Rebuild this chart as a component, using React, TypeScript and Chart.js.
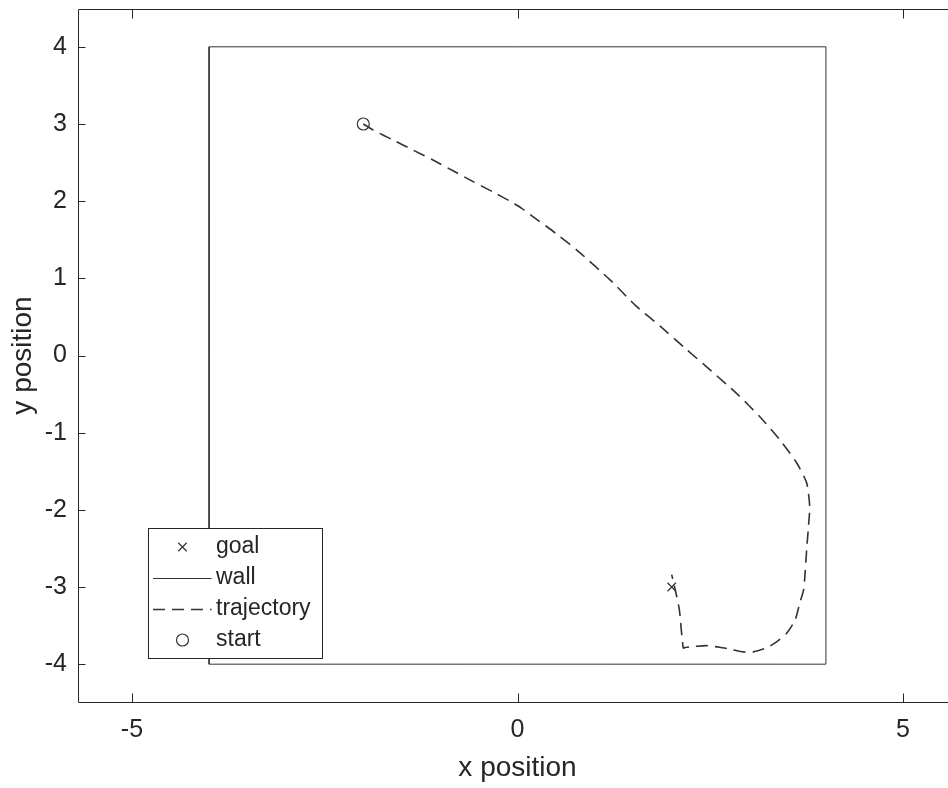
import { useEffect, useRef } from "react";
import { Chart, registerables } from "chart.js";

Chart.register(...registerables);

// ---- data ----
const xTicks = [-5, 0, 5];
const yTicks = [-4, -3, -2, -1, 0, 1, 2, 3, 4];
const xRange = [-5.7, 5.7];
const yRange = [-4.49, 4.49];

const seriesLabels = ["goal", "wall", "trajectory", "start"];

const goalX = [2];
const goalY = [-3];

const wallX = [-4, 4, 4, -4, -4];
const wallY = [-4, -4, 4, 4, -4];

const trajX = [
  -2.0, -1.87, -1.61, -1.35, -1.09, -0.83, -0.57, -0.32, -0.08, 0.05, 0.2, 0.5,
  0.8, 1.2, 1.54, 1.85, 2.19, 2.49, 2.84, 3.14, 3.4, 3.62, 3.75, 3.79, 3.77,
  3.75, 3.73, 3.71, 3.66, 3.6, 3.49, 3.36, 3.23, 3.06, 2.93, 2.78, 2.62, 2.45,
  2.3, 2.19, 2.15, 2.1, 2.06, 2.0,
];
const trajY = [
  3.0, 2.92, 2.79, 2.66, 2.53, 2.39, 2.25, 2.12, 1.99, 1.91, 1.8, 1.58, 1.34,
  0.98, 0.64, 0.38, 0.08, -0.18, -0.49, -0.79, -1.09, -1.39, -1.65, -1.96,
  -2.26, -2.52, -2.82, -3.04, -3.21, -3.43, -3.6, -3.71, -3.79, -3.84, -3.84,
  -3.81, -3.78, -3.76, -3.77, -3.78, -3.79, -3.3, -3.1, -2.84,
];

const startX = [-2];
const startY = [3];

const xTitle = "x position";
const yTitle = "y position";

// ---- styling ----
const FONT = "'Liberation Sans', Arial, Helvetica, sans-serif";
const AXIS_COLOR = "#262626";
const CANVAS_W = 966;
const CANVAS_H = 788;

const pts = (xs: number[], ys: number[]) => xs.map((x, i) => ({ x, y: ys[i] }));

function drawMarker(ctx: CanvasRenderingContext2D, style: string, cx: number, cy: number, r: number) {
  ctx.beginPath();
  if (style === "crossRot") {
    const d = r * Math.SQRT1_2;
    ctx.moveTo(cx - d, cy - d);
    ctx.lineTo(cx + d, cy + d);
    ctx.moveTo(cx - d, cy + d);
    ctx.lineTo(cx + d, cy - d);
  } else {
    ctx.arc(cx, cy, r, 0, Math.PI * 2);
  }
  ctx.stroke();
}

const framePlugin = {
  id: "matlabFrame",
  afterDraw(chart: any) {
    const { ctx, chartArea } = chart;
    const { left, right, top, bottom } = chartArea;
    const xs = chart.scales.x;
    const ys = chart.scales.y;
    ctx.save();
    ctx.strokeStyle = AXIS_COLOR;
    ctx.lineWidth = 1;
    ctx.beginPath();
    ctx.moveTo(left + 0.5, top + 0.5);
    ctx.lineTo(right + 0.5, top + 0.5);
    ctx.lineTo(right + 0.5, bottom + 0.5);
    ctx.lineTo(left + 0.5, bottom + 0.5);
    ctx.closePath();
    for (const v of xTicks) {
      const px = Math.round(xs.getPixelForValue(v)) + 0.5;
      ctx.moveTo(px, bottom + 0.5);
      ctx.lineTo(px, bottom + 0.5 - 9);
      ctx.moveTo(px, top + 0.5);
      ctx.lineTo(px, top + 0.5 + 9);
    }
    for (const v of yTicks) {
      const py = Math.round(ys.getPixelForValue(v)) + 0.5;
      ctx.moveTo(left + 0.5, py);
      ctx.lineTo(left + 0.5 + 7, py);
      ctx.moveTo(right + 0.5, py);
      ctx.lineTo(right + 0.5 - 7, py);
    }
    ctx.stroke();

    // legend
    const bx = 148.5, by = 528.5, bw = 174, bh = 130;
    ctx.fillStyle = "#ffffff";
    ctx.fillRect(bx, by, bw, bh);
    ctx.strokeStyle = AXIS_COLOR;
    ctx.lineWidth = 1;
    ctx.strokeRect(bx, by, bw, bh);
    const datasets = chart.data.datasets;
    datasets.forEach((ds: any, i: number) => {
      const ry = 547 + i * 31;
      ctx.save();
      ctx.strokeStyle = ds.borderColor;
      if (ds.showLine) {
        ctx.lineWidth = ds.borderWidth;
        ctx.setLineDash(ds.borderDash || []);
        ctx.beginPath();
        ctx.moveTo(153, ry + 0.5);
        ctx.lineTo(211.5, ry + 0.5);
        ctx.stroke();
      } else {
        ctx.lineWidth = ds.pointBorderWidth;
        drawMarker(ctx, ds.pointStyle, 182.5, ry, ds.pointRadius);
      }
      ctx.restore();
      ctx.fillStyle = AXIS_COLOR;
      ctx.font = `23px ${FONT}`;
      ctx.textAlign = "left";
      ctx.textBaseline = "middle";
      ctx.fillText(ds.label, 216, ry);
    });
    ctx.restore();
  },
};

export default function App() {
  const ref = useRef<HTMLCanvasElement | null>(null);

  useEffect(() => {
    if (!ref.current) return;
    const chart = new Chart(ref.current, {
      type: "scatter",
      data: {
        datasets: [
          {
            label: seriesLabels[0],
            data: pts(goalX, goalY),
            showLine: false,
            pointStyle: "crossRot",
            pointRadius: 6,
            pointBorderWidth: 1.2,
            borderColor: "#333333",
            backgroundColor: "rgba(0,0,0,0)",
            pointBorderColor: "#333333",
          },
          {
            label: seriesLabels[1],
            data: pts(wallX, wallY),
            showLine: true,
            borderColor: "#333333",
            borderWidth: 1,
            pointRadius: 0,
            tension: 0,
            fill: false,
          },
          {
            label: seriesLabels[2],
            data: pts(trajX, trajY),
            showLine: true,
            borderColor: "#333333",
            borderWidth: 1.6,
            borderDash: [12, 7],
            pointRadius: 0,
            tension: 0.2,
            fill: false,
          },
          {
            label: seriesLabels[3],
            data: pts(startX, startY),
            showLine: false,
            pointStyle: "circle",
            pointRadius: 6,
            pointBorderWidth: 1.2,
            borderColor: "#333333",
            backgroundColor: "rgba(0,0,0,0)",
            pointBorderColor: "#333333",
            pointBackgroundColor: "rgba(0,0,0,0)",
          },
        ] as any,
      },
      options: {
        responsive: false,
        maintainAspectRatio: false,
        animation: false,
        events: [],
        layout: { padding: { top: 9, right: CANVAS_W - 957, left: 0, bottom: 0 } },
        plugins: { legend: { display: false }, tooltip: { enabled: false } },
        scales: {
          x: {
            type: "linear",
            min: xRange[0],
            max: xRange[1],
            afterBuildTicks: (s: any) => {
              s.ticks = xTicks.map((v) => ({ value: v }));
            },
            afterFit: (s: any) => {
              s.height = 86;
              s.paddingLeft = 0;
              s.paddingRight = 0;
              s.paddingTop = 0;
              s.paddingBottom = 0;
            },
            grid: { display: false, drawTicks: false },
            border: { display: false },
            ticks: {
              autoSkip: false,
              maxRotation: 0,
              padding: 13,
              color: AXIS_COLOR,
              font: { family: FONT, size: 25 },
            },
            title: {
              display: true,
              text: xTitle,
              color: AXIS_COLOR,
              font: { family: FONT, size: 28 },
              padding: { top: 0, bottom: 3 },
            },
          },
          y: {
            type: "linear",
            min: yRange[0],
            max: yRange[1],
            afterBuildTicks: (s: any) => {
              s.ticks = yTicks.map((v) => ({ value: v }));
            },
            afterFit: (s: any) => {
              s.width = 78;
              s.paddingLeft = 0;
              s.paddingRight = 0;
              s.paddingTop = 0;
              s.paddingBottom = 0;
            },
            grid: { display: false, drawTicks: false },
            border: { display: false },
            ticks: {
              autoSkip: false,
              padding: 11,
              color: AXIS_COLOR,
              font: { family: FONT, size: 25 },
            },
            title: {
              display: true,
              text: yTitle,
              color: AXIS_COLOR,
              font: { family: FONT, size: 28 },
              padding: { top: 6.5, bottom: 0 },
            },
          },
        },
      },
      plugins: [framePlugin],
    });
    return () => chart.destroy();
  }, []);

  return (
    <div
      style={{
        position: "absolute",
        left: 0,
        top: 0,
        width: 948,
        height: 788,
        overflow: "hidden",
        background: "#ffffff",
      }}
    >
      <canvas ref={ref} width={CANVAS_W} height={CANVAS_H} style={{ display: "block" }} />
    </div>
  );
}
